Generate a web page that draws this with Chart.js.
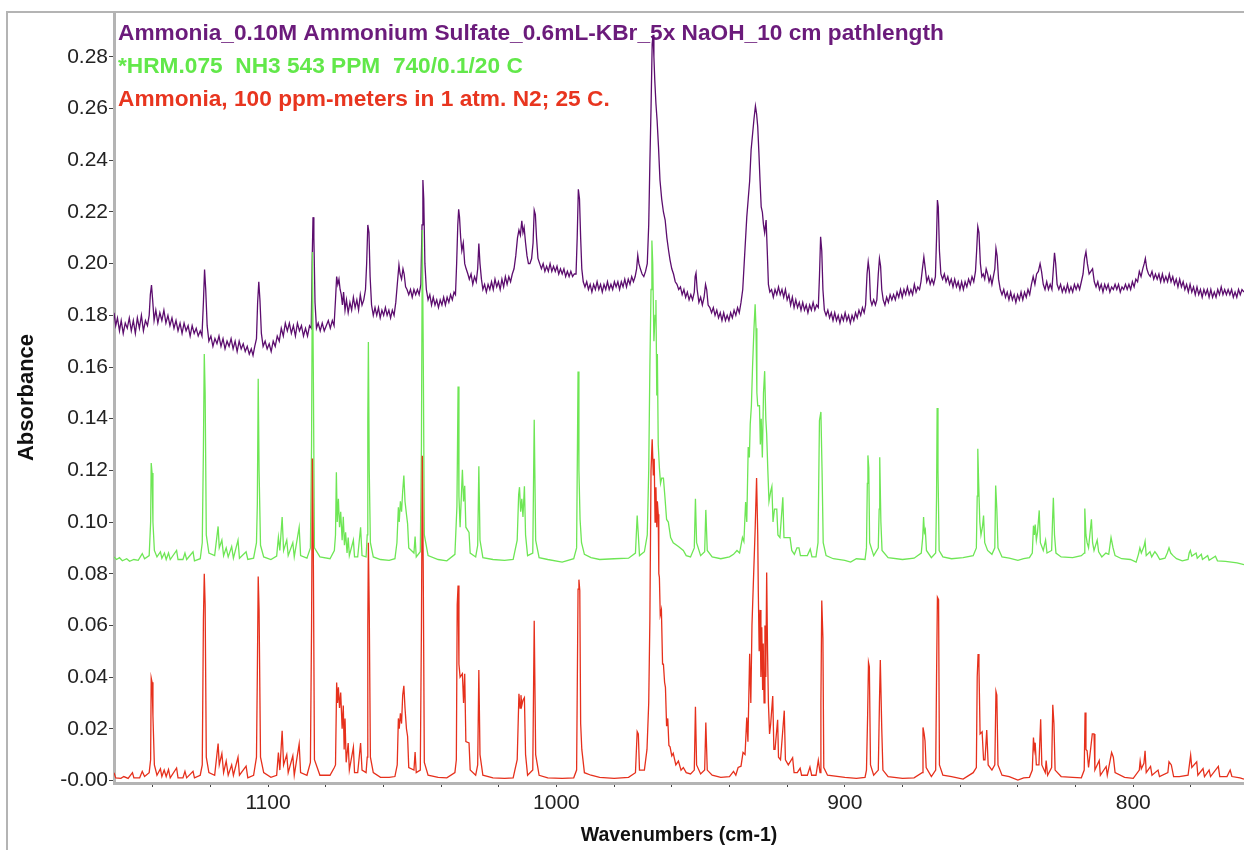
<!DOCTYPE html>
<html>
<head>
<meta charset="utf-8">
<script src="https://cdn.jsdelivr.net/npm/chart.js@4.4.1/dist/chart.umd.min.js"></script>
<style>
  html, body { margin: 0; padding: 0; background: #fff; }
  #wrap { width: 1244px; height: 850px; }
</style>
</head>
<body>
<div id="wrap"><canvas id="myChart" width="1244" height="850"></canvas></div>
<script>
// Spectra: [wavenumber cm-1, absorbance]

const redPts = [
  [1153.4,0.003],[1152.8,0.001],[1151,0.0008],[1150,0.0015],[1148.5,0.0008],[1147,0.003],[1146.5,0.001],
  [1144.5,0.001],[1143.6,0.0035],[1142.8,0.0015],[1141.2,0.003],[1140.7,0.008],[1140.5,0.0397],[1140.2,0.038],
  [1139.9,0.025],[1139.4,0.006],[1138.5,0.002],[1137.3,0.0045],[1136.8,0.0015],[1136.0,0.004],[1135.3,0.0015],
  [1134.5,0.0042],[1133.9,0.001],[1131.7,0.0048],[1131.2,0.001],[1129.5,0.001],[1128.8,0.0035],[1128.2,0.001],
  [1126.0,0.0035],[1125.5,0.001],[1123.5,0.002],[1122.8,0.006],[1122.4,0.062],[1122.1,0.080],[1121.8,0.068],
  [1121.4,0.009],[1120.5,0.003],[1118.5,0.002],[1117.3,0.0143],[1116.9,0.006],[1116.0,0.0104],[1115.4,0.003],
  [1114.5,0.0075],[1113.8,0.002],[1112.6,0.006],[1112.0,0.002],[1110.4,0.009],[1109.9,0.002],[1107.6,0.0055],
  [1107.0,0.001],[1105,0.002],[1104.0,0.009],[1103.7,0.041],[1103.4,0.0789],[1103.1,0.066],[1102.6,0.009],
  [1101.5,0.003],[1099,0.0012],[1097,0.002],[1096.4,0.0108],[1095.9,0.004],[1095.1,0.0192],[1094.6,0.006],
  [1093.5,0.010],[1093.0,0.003],[1091.4,0.0095],[1090.9,0.002],[1089.5,0.012],[1089.2,0.0141],[1088.7,0.003],
  [1086.5,0.002],[1085.3,0.007],[1084.9,0.06],[1084.6,0.1246],[1084.3,0.09],[1083.9,0.008],[1082,0.002],
  [1078.5,0.002],[1077,0.005],[1076.6,0.006],[1076.2,0.0379],[1075.9,0.03],[1075.6,0.036],[1075.2,0.028],
  [1074.8,0.034],[1074.3,0.02],[1073.9,0.029],[1073.6,0.012],[1073.3,0.024],[1072.9,0.007],[1072.2,0.0145],
  [1071.8,0.004],[1070.4,0.0129],[1070.0,0.003],[1068.9,0.003],[1067.9,0.0145],[1067.4,0.004],[1066.0,0.003],
  [1065.6,0.009],[1065.4,0.06],[1065.2,0.092],[1064.9,0.066],[1064.5,0.009],[1063.5,0.003],[1061,0.0012],
  [1058,0.0012],[1056,0.0015],[1055.2,0.006],[1054.8,0.024],[1054.5,0.02],[1054.1,0.026],[1053.7,0.022],
  [1053.3,0.033],[1052.9,0.0366],[1052.5,0.028],[1052.0,0.02],[1051.6,0.017],[1051.2,0.005],[1049.4,0.004],
  [1049.0,0.011],[1048.6,0.003],[1047.2,0.004],[1046.8,0.06],[1046.5,0.1257],[1046.2,0.085],[1045.8,0.007],
  [1044.5,0.002],[1041,0.0012],[1038,0.001],[1035.2,0.003],[1034.7,0.008],[1034.4,0.068],[1034.1,0.0754],
  [1033.8,0.045],[1033.4,0.04],[1032.6,0.0413],[1032.2,0.03],[1031.8,0.0413],[1031.4,0.015],[1030.3,0.0145],
  [1029.9,0.004],[1028,0.002],[1027.3,0.006],[1026.9,0.0427],[1026.5,0.01],[1025.5,0.002],[1022,0.001],
  [1018,0.0008],[1015,0.001],[1013.6,0.008],[1013.0,0.0335],[1012.6,0.028],[1012.3,0.033],[1012.0,0.029],
  [1011.6,0.031],[1011.1,0.032],[1010.7,0.01],[1010.0,0.002],[1008.2,0.004],[1007.7,0.0618],[1007.2,0.01],
  [1006,0.002],[1003,0.001],[998,0.0008],[994,0.001],[993.0,0.004],[992.5,0.074],[992.2,0.0777],
  [991.9,0.0735],[991.6,0.022],[991.2,0.012],[990.3,0.003],[988,0.002],[985,0.0012],[980,0.0008],
  [975,0.0012],[972.6,0.003],[972.0,0.0189],[971.6,0.018],[971.2,0.004],[969.5,0.004],[968.6,0.012],
  [968.0,0.03],[967.6,0.062],[967.2,0.12],[966.8,0.132],[966.4,0.118],[966.1,0.1245],[965.8,0.10],
  [965.5,0.1135],[965.2,0.098],[965.0,0.108],[964.7,0.103],[964.5,0.08],[964.3,0.0786],[964.0,0.064],
  [963.6,0.066],[963.2,0.045],[962.9,0.045],[962.5,0.038],[962.2,0.036],[961.8,0.021],[961.4,0.024],
  [961.0,0.0135],[960.6,0.013],[960.0,0.0095],[959.5,0.0105],[958.6,0.006],[957.7,0.0075],[956.8,0.004],
  [956.0,0.005],[955.0,0.003],[953.5,0.0025],[952.2,0.004],[951.8,0.0285],[951.4,0.006],[950.0,0.0025],
  [948.6,0.004],[948.2,0.0224],[947.7,0.004],[946,0.002],[943,0.0012],[940,0.0015],[938.6,0.0035],
  [937.8,0.002],[937,0.005],[936,0.0055],[935.3,0.0108],[934.6,0.01],[934.0,0.0243],[933.6,0.015],
  [933.0,0.049],[932.6,0.03],[932.2,0.06],[931.7,0.077],[931.1,0.097],[930.6,0.117],[930.2,0.095],
  [930.0,0.0728],[929.7,0.05],[929.4,0.066],[929.1,0.04],[928.8,0.0593],[928.5,0.035],[928.3,0.053],
  [928.0,0.03],[927.7,0.06],[927.4,0.04],[927.1,0.0805],[926.8,0.05],[926.5,0.03],[926.1,0.018],
  [925.7,0.022],[925.0,0.0327],[924.6,0.012],[924.2,0.012],[923.3,0.0235],[923.0,0.009],[922.3,0.008],
  [921.0,0.027],[920.6,0.008],[919.6,0.006],[918.1,0.0088],[917.6,0.003],[916.5,0.003],[915.5,0.0047],
  [915,0.002],[913,0.002],[912.1,0.0052],[911.5,0.002],[910,0.002],[909.2,0.0078],[908.6,0.003],
  [908.3,0.03],[908.0,0.0696],[907.6,0.055],[907.3,0.005],[906,0.002],[900,0.0012],[896,0.0008],
  [893,0.0012],[892.5,0.004],[892.1,0.025],[891.8,0.0457],[891.5,0.044],[891.1,0.006],[890,0.002],
  [888.4,0.004],[888.0,0.03],[887.7,0.0466],[887.2,0.02],[886.8,0.004],[885,0.0015],[880,0.0008],
  [876,0.001],[873.2,0.003],[872.9,0.0205],[872.5,0.018],[872.2,0.0153],[871.8,0.005],[870,0.0015],
  [868.5,0.004],[868.2,0.04],[867.9,0.0709],[867.5,0.07],[867.2,0.006],[866,0.002],[863,0.0015],
  [859,0.0005],[855.5,0.003],[854.4,0.005],[854.1,0.04],[853.8,0.0489],[853.5,0.044],[853.1,0.018],
  [852.4,0.0188],[851.9,0.008],[851.4,0.008],[850.8,0.0195],[850.3,0.006],[849,0.004],[848.0,0.006],
  [847.6,0.0344],[847.3,0.033],[846.9,0.006],[845.5,0.002],[843,0.0015],[840,0.0001],[838,0.001],
  [836,0.0012],[835.0,0.004],[834.6,0.0166],[834.3,0.012],[834.0,0.0146],[833.6,0.006],[832.7,0.006],
  [832.1,0.0237],[831.7,0.006],[830.5,0.003],[830.2,0.0077],[829.7,0.002],[828.3,0.005],[827.9,0.0293],
  [827.5,0.022],[827.1,0.004],[825,0.0015],[821,0.0012],[818,0.001],[817.0,0.004],[816.7,0.0263],
  [816.4,0.012],[816.0,0.0115],[815.5,0.005],[814.2,0.018],[813.6,0.018],[813.3,0.004],[811.8,0.0077],
  [811.4,0.002],[809.4,0.0054],[809,0.002],[807.5,0.0108],[806.9,0.009],[806.3,0.003],[803,0.0012],
  [800,0.0008],[797.9,0.004],[797.6,0.0075],[797.2,0.0045],[796.3,0.0066],[795.9,0.0115],[795.5,0.003],
  [794.0,0.0054],[793.5,0.002],[791.4,0.004],[790.9,0.0015],[788,0.003],[787.6,0.0072],[786.8,0.006],
  [786,0.0015],[784,0.0015],[781,0.002],[780.1,0.0098],[779.7,0.005],[778.0,0.0072],[777.6,0.002],
  [775.8,0.0046],[775.3,0.0015],[773.7,0.004],[773.2,0.0015],[770.5,0.0054],[770.0,0.0015],[767.5,0.0015],
  [766.4,0.004],[765.8,0.0015],[763,0.001],[761.6,0.0005]
];

const greenPts = [
  [1153.4,0.0865],[1152.5,0.0855],[1151.5,0.0862],[1150.5,0.085],[1149,0.0858],[1148,0.0848],[1146.5,0.0855],
  [1145,0.0852],[1143.6,0.0878],[1142.8,0.0858],[1141.2,0.087],[1140.7,0.10],[1140.5,0.1228],[1140.2,0.119],
  [1139.9,0.1],[1139.4,0.089],[1138.5,0.0865],[1137.3,0.0885],[1136.8,0.086],[1135.9,0.088],[1135.3,0.0855],
  [1134.5,0.088],[1133.9,0.0855],[1131.7,0.089],[1131.2,0.0855],[1129.5,0.0855],[1128.8,0.088],[1128.2,0.0855],
  [1126.0,0.0885],[1125.5,0.085],[1123.5,0.0858],[1122.8,0.092],[1122.4,0.128],[1122.1,0.165],[1121.8,0.150],
  [1121.4,0.095],[1120.5,0.088],[1118.5,0.087],[1117.3,0.0983],[1116.9,0.09],[1116.0,0.093],[1115.4,0.087],
  [1114.5,0.09],[1113.8,0.0865],[1112.6,0.0905],[1112.0,0.086],[1110.4,0.093],[1109.9,0.086],[1107.6,0.0885],
  [1107.0,0.0855],[1105,0.086],[1104.0,0.092],[1103.7,0.107],[1103.4,0.1555],[1103.1,0.12],[1102.6,0.091],
  [1101.5,0.0865],[1099,0.0855],[1097,0.0868],[1096.4,0.0941],[1095.9,0.089],[1095.1,0.1019],[1094.6,0.089],
  [1093.5,0.093],[1093.0,0.087],[1091.4,0.092],[1090.9,0.0865],[1089.2,0.098],[1088.7,0.087],[1086.5,0.086],
  [1085.3,0.09],[1084.9,0.13],[1084.6,0.2045],[1084.3,0.16],[1083.9,0.09],[1082,0.0865],[1078.5,0.0858],
  [1077,0.089],[1076.6,0.095],[1076.3,0.1193],[1076.0,0.1],[1075.6,0.109],[1075.2,0.098],[1074.8,0.104],
  [1074.3,0.093],[1073.9,0.102],[1073.5,0.091],[1073.1,0.096],[1072.6,0.088],[1072.2,0.094],[1071.8,0.087],
  [1070.4,0.093],[1070.0,0.0865],[1068.9,0.0865],[1067.9,0.098],[1067.4,0.087],[1066.0,0.0865],[1065.6,0.095],
  [1065.4,0.14],[1065.2,0.1697],[1064.9,0.12],[1064.5,0.092],[1063.5,0.0865],[1061,0.0855],[1058,0.0852],
  [1056,0.0858],[1055.3,0.092],[1054.8,0.1057],[1054.5,0.1],[1054.1,0.108],[1053.7,0.104],[1053.3,0.112],
  [1052.9,0.118],[1052.5,0.108],[1052.0,0.103],[1051.6,0.0993],[1051.2,0.09],[1049.4,0.088],[1049.0,0.0944],
  [1048.6,0.0865],[1047.2,0.0885],[1046.8,0.13],[1046.5,0.213],[1046.2,0.17],[1045.8,0.095],[1044.5,0.087],
  [1041,0.0855],[1038,0.085],[1035.2,0.0875],[1034.5,0.106],[1034.1,0.1525],[1033.8,0.11],[1033.4,0.098],
  [1032.6,0.1202],[1032.2,0.108],[1031.8,0.114],[1031.4,0.098],[1030.3,0.096],[1029.9,0.088],[1028,0.0865],
  [1027.3,0.091],[1026.9,0.1216],[1026.5,0.093],[1025.5,0.0862],[1022,0.0855],[1018,0.0852],[1015,0.0855],
  [1013.6,0.093],[1013.1,0.1105],[1012.8,0.1135],[1012.4,0.104],[1012.0,0.109],[1011.6,0.102],[1011.1,0.1138],
  [1010.7,0.095],[1010.0,0.087],[1008.2,0.088],[1007.7,0.1396],[1007.2,0.093],[1006,0.0862],[1003,0.0855],
  [998,0.0845],[994,0.0858],[993.0,0.09],[992.5,0.1583],[992.2,0.12],[991.8,0.101],[991.3,0.092],
  [990.3,0.0875],[988,0.0862],[985,0.0855],[980,0.0858],[975,0.086],[972.6,0.088],[972.0,0.1025],
  [971.6,0.095],[971.2,0.087],[969.5,0.0885],[968.5,0.095],[968.0,0.12],[967.6,0.16],[967.2,0.19],
  [966.9,0.209],[966.6,0.2],[966.2,0.17],[965.8,0.18],[965.5,0.1859],[965.2,0.149],[965.0,0.165],
  [964.7,0.13],[964.3,0.121],[963.9,0.115],[963.5,0.117],[962.9,0.117],[962.4,0.11],[961.8,0.101],
  [961.2,0.1],[960.4,0.094],[959.5,0.092],[957.7,0.0905],[956.0,0.089],[955.0,0.087],[953.5,0.0865],
  [952.2,0.09],[951.8,0.109],[951.4,0.092],[950.0,0.087],[948.6,0.0885],[948.2,0.1047],[947.7,0.089],
  [946,0.0865],[943,0.0858],[940,0.0865],[938.6,0.0875],[937.4,0.089],[936.5,0.088],[935.5,0.094],
  [935.0,0.0925],[934.4,0.1077],[934.0,0.1],[933.5,0.129],[933.1,0.125],[932.8,0.138],[932.4,0.145],
  [932.0,0.16],[931.5,0.175],[931.1,0.1843],[930.8,0.175],[930.5,0.15],[930.2,0.145],[929.6,0.145],
  [929.3,0.13],[929.0,0.14],[928.6,0.125],[928.2,0.15],[927.8,0.1584],[927.4,0.14],[927.1,0.134],
  [926.7,0.12],[926.3,0.108],[925.7,0.112],[925.3,0.1138],[924.9,0.1],[924.4,0.105],[923.6,0.105],
  [923.2,0.095],[922.5,0.094],[921.5,0.1096],[921.1,0.094],[919.6,0.094],[919.0,0.094],[918.4,0.089],
  [917.5,0.0875],[916.6,0.09],[915.9,0.09],[915.4,0.087],[913,0.087],[912.0,0.0895],[911.4,0.0865],
  [910,0.0865],[909.3,0.092],[908.8,0.1393],[908.3,0.1426],[907.9,0.12],[907.5,0.092],[906.5,0.087],
  [904,0.0858],[900,0.0852],[898,0.0845],[896,0.0858],[893,0.0855],[892.5,0.09],[892.2,0.115],
  [892.0,0.1258],[891.7,0.121],[891.4,0.092],[890,0.087],[888.4,0.09],[888.1,0.105],[887.9,0.1251],
  [887.5,0.1],[887.1,0.089],[885,0.0862],[880,0.0855],[876,0.086],[873.5,0.088],[873.0,0.094],
  [872.7,0.1019],[872.4,0.096],[872.1,0.097],[871.7,0.089],[870,0.0862],[868.5,0.088],[868.2,0.11],
  [868.0,0.1441],[867.7,0.12],[867.3,0.089],[866,0.0865],[863,0.0858],[859,0.0862],[855.5,0.087],
  [854.4,0.09],[854.1,0.11],[853.9,0.1284],[853.6,0.115],[853.2,0.1],[852.8,0.095],[852.3,0.098],
  [851.9,0.1025],[851.5,0.092],[850.5,0.089],[849.0,0.0875],[848.0,0.09],[847.7,0.1141],[847.3,0.105],
  [846.9,0.09],[845.5,0.0865],[843,0.086],[840,0.0852],[838,0.0858],[836,0.0862],[835.0,0.088],
  [834.6,0.0986],[834.3,0.095],[834.0,0.099],[833.6,0.093],[833.2,0.096],[832.6,0.1045],[832.2,0.092],
  [831.2,0.089],[830.4,0.093],[829.9,0.088],[828.3,0.089],[828.0,0.1],[827.7,0.1094],[827.3,0.095],
  [826.8,0.088],[825,0.0865],[821,0.0862],[818,0.087],[817.0,0.088],[816.8,0.1052],[816.4,0.095],
  [816.0,0.092],[815.5,0.09],[814.5,0.1011],[814.1,0.092],[813.6,0.089],[812.5,0.093],[812.0,0.0885],
  [810.9,0.0865],[809.5,0.088],[808.5,0.0875],[807.7,0.094],[807.0,0.09],[806.3,0.087],[804,0.0858],
  [801,0.0855],[799,0.0845],[798.2,0.0875],[797.7,0.09],[797.2,0.088],[796.3,0.0905],[795.9,0.0925],
  [795.5,0.087],[794.2,0.0885],[793.6,0.0865],[792.5,0.0885],[791.8,0.0875],[790.8,0.0855],[789,0.086],
  [788.2,0.088],[787.6,0.090],[787.0,0.088],[786.2,0.087],[785,0.0858],[783,0.085],[781,0.0855],
  [780.6,0.088],[780.2,0.089],[779.7,0.0868],[778.2,0.088],[777.8,0.086],[776.4,0.0875],[776.0,0.0855],
  [774.2,0.087],[773.7,0.0852],[771.5,0.0868],[770.8,0.085],[768,0.0848],[766,0.0845],[764,0.0842],
  [761.6,0.0835]
];

const purplePts = [
  [1153.4,0.181],[1152.8,0.176],[1152.2,0.179],[1151.5,0.174],[1150.9,0.178],[1150.2,0.173],[1149.5,0.177],
  [1148.8,0.175],[1148.1,0.179],[1147.4,0.174],[1146.7,0.178],[1146.0,0.173],[1145.3,0.179],[1144.6,0.175],
  [1143.9,0.18],[1143.2,0.174],[1142.5,0.178],[1141.8,0.176],[1141.2,0.18],[1140.8,0.188],[1140.4,0.1917],
  [1140.0,0.186],[1139.5,0.178],[1138.9,0.182],[1138.2,0.177],[1137.5,0.181],[1136.8,0.178],[1136.1,0.182],
  [1135.4,0.177],[1134.7,0.18],[1134.0,0.176],[1133.3,0.179],[1132.6,0.175],[1131.9,0.178],[1131.2,0.174],
  [1130.5,0.177],[1129.8,0.173],[1129.1,0.177],[1128.4,0.174],[1127.7,0.176],[1127.0,0.172],[1126.3,0.176],
  [1125.6,0.173],[1124.9,0.175],[1124.2,0.172],[1123.5,0.174],[1122.9,0.172],[1122.4,0.185],[1122.0,0.1977],
  [1121.6,0.19],[1121.1,0.176],[1120.5,0.17],[1119.8,0.172],[1119.1,0.168],[1118.4,0.171],[1117.7,0.169],
  [1117.0,0.172],[1116.3,0.168],[1115.6,0.171],[1114.9,0.167],[1114.2,0.17],[1113.5,0.168],[1112.8,0.171],
  [1112.1,0.167],[1111.4,0.17],[1110.7,0.166],[1110.0,0.17],[1109.3,0.167],[1108.6,0.169],[1107.9,0.166],
  [1107.2,0.168],[1106.5,0.165],[1105.8,0.167],[1105.2,0.1645],[1104.6,0.168],[1104.0,0.171],[1103.6,0.185],
  [1103.2,0.193],[1102.8,0.186],[1102.3,0.173],[1101.7,0.168],[1101.0,0.17],[1100.3,0.167],[1099.6,0.169],
  [1098.9,0.166],[1098.2,0.17],[1097.5,0.168],[1096.8,0.172],[1096.1,0.17],[1095.4,0.175],[1094.7,0.172],
  [1094.0,0.177],[1093.3,0.174],[1092.6,0.177],[1091.9,0.173],[1091.2,0.176],[1090.5,0.172],[1089.8,0.177],
  [1089.1,0.174],[1088.4,0.176],[1087.7,0.172],[1087.0,0.175],[1086.3,0.172],[1085.6,0.176],[1085.0,0.175],
  [1084.7,0.2],[1084.4,0.218],[1084.1,0.21],[1083.7,0.185],[1083.2,0.175],[1082.6,0.177],[1081.9,0.174],
  [1081.2,0.177],[1080.5,0.174],[1079.8,0.176],[1079.1,0.178],[1078.4,0.175],[1077.7,0.178],[1077.1,0.176],
  [1076.6,0.186],[1076.2,0.195],[1075.8,0.192],[1075.4,0.194],[1075.0,0.19],[1074.6,0.188],[1074.2,0.184],
  [1073.8,0.189],[1073.3,0.182],[1072.8,0.186],[1072.2,0.181],[1071.6,0.185],[1071.0,0.182],[1070.4,0.187],
  [1069.8,0.183],[1069.2,0.186],[1068.6,0.182],[1068.0,0.188],[1067.4,0.184],[1066.8,0.186],[1066.2,0.19],
  [1065.8,0.2],[1065.4,0.215],[1065.0,0.212],[1064.6,0.195],[1064.1,0.184],[1063.5,0.18],[1062.9,0.183],
  [1062.3,0.18],[1061.7,0.183],[1061.1,0.179],[1060.5,0.182],[1059.9,0.18],[1059.3,0.183],[1058.7,0.18],
  [1058.1,0.182],[1057.5,0.179],[1056.9,0.182],[1056.3,0.18],[1055.7,0.185],[1055.1,0.193],[1054.6,0.1995],
  [1054.2,0.196],[1053.7,0.194],[1053.2,0.198],[1052.8,0.196],[1052.3,0.191],[1051.8,0.19],[1051.2,0.188],
  [1050.6,0.19],[1050.0,0.187],[1049.4,0.19],[1048.8,0.188],[1048.2,0.19],[1047.6,0.188],[1047.0,0.192],
  [1046.6,0.215],[1046.3,0.2324],[1046.0,0.225],[1045.6,0.2],[1045.1,0.19],[1044.5,0.186],[1043.9,0.188],
  [1043.3,0.184],[1042.7,0.187],[1042.1,0.184],[1041.5,0.186],[1040.9,0.183],[1040.3,0.186],[1039.7,0.184],
  [1039.1,0.187],[1038.5,0.184],[1037.9,0.187],[1037.3,0.185],[1036.7,0.188],[1036.1,0.186],[1035.5,0.189],
  [1035.0,0.188],[1034.6,0.2],[1034.2,0.215],[1033.9,0.221],[1033.6,0.218],[1033.2,0.21],[1032.8,0.205],
  [1032.3,0.208],[1031.8,0.2],[1031.3,0.198],[1030.7,0.196],[1030.2,0.194],[1029.6,0.196],[1029.0,0.192],
  [1028.4,0.195],[1027.8,0.193],[1027.3,0.198],[1026.9,0.2078],[1026.5,0.2],[1026.0,0.194],[1025.5,0.19],
  [1024.9,0.192],[1024.3,0.189],[1023.7,0.192],[1023.1,0.19],[1022.5,0.193],[1021.9,0.19],[1021.3,0.194],
  [1020.7,0.191],[1020.1,0.193],[1019.5,0.19],[1018.9,0.194],[1018.3,0.191],[1017.7,0.195],[1017.1,0.192],
  [1016.5,0.195],[1015.9,0.193],[1015.3,0.196],[1014.7,0.198],[1014.1,0.203],[1013.5,0.21],[1013.0,0.213],
  [1012.5,0.211],[1012.0,0.2166],[1011.6,0.212],[1011.2,0.214],[1010.7,0.208],[1010.2,0.203],[1009.7,0.2],
  [1009.2,0.2],[1008.6,0.202],[1008.1,0.208],[1007.7,0.2207],[1007.3,0.219],[1006.9,0.21],[1006.4,0.202],
  [1005.8,0.2],[1005.2,0.198],[1004.6,0.2],[1004.0,0.197],[1003.4,0.199],[1002.8,0.197],[1002.2,0.2],
  [1001.6,0.197],[1001.0,0.199],[1000.4,0.197],[999.8,0.199],[999.2,0.196],[998.6,0.198],[998.0,0.196],
  [997.4,0.198],[996.8,0.195],[996.2,0.197],[995.6,0.195],[995.0,0.197],[994.4,0.195],[993.8,0.196],
  [993.2,0.196],[992.8,0.21],[992.4,0.2288],[992.0,0.225],[991.6,0.21],[991.2,0.198],[990.7,0.193],
  [990.1,0.191],[989.5,0.193],[988.9,0.19],[988.3,0.192],[987.7,0.189],[987.1,0.192],[986.5,0.19],
  [985.9,0.193],[985.3,0.19],[984.7,0.192],[984.1,0.189],[983.5,0.192],[982.9,0.19],[982.3,0.193],
  [981.7,0.19],[981.1,0.192],[980.5,0.19],[979.9,0.193],[979.3,0.191],[978.7,0.193],[978.1,0.19],
  [977.5,0.193],[976.9,0.191],[976.3,0.194],[975.7,0.191],[975.1,0.194],[974.5,0.192],[973.9,0.195],
  [973.3,0.193],[972.7,0.195],[972.2,0.198],[971.8,0.2033],[971.4,0.2],[970.9,0.198],[970.3,0.196],
  [969.7,0.195],[969.1,0.197],[968.5,0.2],[968.0,0.215],[967.6,0.239],[967.2,0.26],[966.8,0.285],
  [966.5,0.2886],[966.2,0.28],[965.9,0.271],[965.5,0.262],[965.1,0.2556],[964.6,0.245],[964.1,0.2324],
  [963.5,0.225],[962.9,0.22],[962.3,0.2169],[961.7,0.21],[961.1,0.205],[960.6,0.2014],[960.0,0.198],
  [959.4,0.196],[958.8,0.193],[958.2,0.192],[957.6,0.19],[957.0,0.191],[956.4,0.188],[955.8,0.19],
  [955.2,0.187],[954.6,0.189],[954.0,0.186],[953.4,0.188],[952.8,0.186],[952.2,0.189],[951.9,0.195],
  [951.6,0.1964],[951.2,0.19],[950.6,0.185],[950.0,0.187],[949.4,0.184],[948.8,0.187],[948.3,0.192],
  [947.9,0.19],[947.4,0.184],[946.8,0.183],[946.2,0.181],[945.6,0.183],[945.0,0.18],[944.4,0.182],
  [943.8,0.179],[943.2,0.181],[942.6,0.178],[942.0,0.181],[941.4,0.178],[940.8,0.18],[940.2,0.178],
  [939.6,0.181],[939.0,0.179],[938.4,0.182],[937.8,0.18],[937.2,0.183],[936.6,0.181],[936.0,0.185],
  [935.4,0.19],[934.9,0.2],[934.4,0.21],[934.0,0.218],[933.5,0.225],[933.0,0.232],[932.5,0.244],
  [932.0,0.25],[931.5,0.256],[931.0,0.261],[930.6,0.258],[930.2,0.253],[929.8,0.243],[929.4,0.232],
  [929.0,0.222],[928.6,0.22],[928.2,0.215],[927.8,0.212],[927.3,0.2169],[926.9,0.205],[926.5,0.192],
  [926.0,0.189],[925.4,0.19],[924.8,0.187],[924.2,0.19],[923.6,0.188],[923.0,0.191],[922.4,0.188],
  [921.8,0.19],[921.2,0.187],[920.6,0.19],[920.0,0.186],[919.4,0.188],[918.8,0.184],[918.2,0.187],
  [917.6,0.183],[917.0,0.186],[916.4,0.183],[915.8,0.185],[915.2,0.182],[914.6,0.185],[914.0,0.182],
  [913.4,0.184],[912.8,0.181],[912.2,0.184],[911.6,0.182],[911.0,0.185],[910.4,0.182],[909.8,0.184],
  [909.2,0.183],[908.8,0.195],[908.4,0.2104],[908.0,0.205],[907.6,0.19],[907.1,0.182],[906.5,0.18],
  [905.9,0.182],[905.3,0.179],[904.7,0.181],[904.1,0.178],[903.5,0.181],[902.9,0.178],[902.3,0.18],
  [901.7,0.177],[901.1,0.18],[900.5,0.178],[899.9,0.181],[899.3,0.178],[898.7,0.18],[898.1,0.177],
  [897.5,0.18],[896.9,0.178],[896.3,0.181],[895.7,0.179],[895.1,0.182],[894.5,0.18],[893.9,0.183],
  [893.3,0.181],[892.8,0.184],[892.3,0.196],[891.9,0.2007],[891.5,0.197],[891.1,0.186],[890.6,0.184],
  [890.0,0.186],[889.4,0.184],[888.9,0.186],[888.4,0.196],[888.0,0.202],[887.6,0.199],[887.2,0.19],
  [886.7,0.186],[886.1,0.184],[885.5,0.187],[884.9,0.185],[884.3,0.188],[883.7,0.186],[883.1,0.188],
  [882.5,0.186],[881.9,0.189],[881.3,0.187],[880.7,0.19],[880.1,0.187],[879.5,0.19],[878.9,0.188],
  [878.3,0.191],[877.7,0.188],[877.1,0.19],[876.5,0.188],[875.9,0.192],[875.3,0.189],[874.7,0.191],
  [874.1,0.19],[873.6,0.193],[873.1,0.198],[872.6,0.2026],[872.1,0.198],[871.6,0.193],[871.0,0.195],
  [870.4,0.192],[869.8,0.194],[869.2,0.192],[868.6,0.195],[868.2,0.21],[867.9,0.2246],[867.6,0.222],
  [867.2,0.205],[866.7,0.196],[866.1,0.194],[865.5,0.196],[864.9,0.193],[864.3,0.195],[863.7,0.192],
  [863.1,0.194],[862.5,0.191],[861.9,0.194],[861.3,0.191],[860.7,0.193],[860.1,0.19],[859.5,0.193],
  [858.9,0.19],[858.3,0.193],[857.7,0.191],[857.1,0.194],[856.5,0.192],[855.9,0.195],[855.3,0.193],
  [854.7,0.197],[854.3,0.205],[853.9,0.2143],[853.5,0.212],[853.0,0.2],[852.5,0.195],[852.0,0.196],
  [851.5,0.194],[851.0,0.198],[850.5,0.196],[850.0,0.193],[849.5,0.195],[849.0,0.192],[848.5,0.195],
  [848.0,0.198],[847.6,0.2059],[847.2,0.203],[846.7,0.194],[846.1,0.19],[845.5,0.188],[844.9,0.19],
  [844.3,0.187],[843.7,0.189],[843.1,0.186],[842.5,0.189],[841.9,0.186],[841.3,0.188],[840.7,0.185],
  [840.1,0.188],[839.5,0.186],[838.9,0.189],[838.3,0.186],[837.7,0.189],[837.1,0.187],[836.5,0.19],
  [835.9,0.188],[835.3,0.192],[834.7,0.195],[834.1,0.192],[833.5,0.196],[832.9,0.197],[832.3,0.2],
  [831.8,0.197],[831.2,0.192],[830.6,0.19],[830.0,0.193],[829.4,0.19],[828.8,0.192],[828.2,0.19],
  [827.7,0.198],[827.3,0.2042],[826.9,0.2],[826.4,0.192],[825.8,0.19],[825.2,0.192],[824.6,0.189],
  [824.0,0.191],[823.4,0.189],[822.8,0.192],[822.2,0.189],[821.6,0.191],[821.0,0.189],[820.4,0.192],
  [819.8,0.19],[819.2,0.192],[818.6,0.19],[818.0,0.193],[817.4,0.196],[816.9,0.202],[816.4,0.2046],
  [815.9,0.2],[815.3,0.196],[814.7,0.197],[814.1,0.198],[813.5,0.193],[812.9,0.191],[812.3,0.193],
  [811.7,0.19],[811.1,0.192],[810.5,0.189],[809.9,0.192],[809.3,0.19],[808.7,0.192],[808.1,0.189],
  [807.5,0.191],[806.9,0.19],[806.3,0.192],[805.7,0.19],[805.1,0.192],[804.5,0.189],[803.9,0.191],
  [803.3,0.19],[802.7,0.192],[802.1,0.19],[801.5,0.192],[800.9,0.19],[800.3,0.193],[799.7,0.191],
  [799.1,0.194],[798.5,0.193],[797.9,0.197],[797.3,0.195],[796.7,0.198],[796.2,0.2],[795.8,0.202],
  [795.3,0.198],[794.7,0.196],[794.1,0.195],[793.5,0.197],[792.9,0.194],[792.3,0.196],[791.7,0.194],
  [791.1,0.196],[790.5,0.193],[789.9,0.196],[789.3,0.193],[788.7,0.195],[788.1,0.193],[787.5,0.196],
  [786.9,0.193],[786.3,0.195],[785.7,0.192],[785.1,0.194],[784.5,0.191],[783.9,0.194],[783.3,0.191],
  [782.7,0.193],[782.1,0.19],[781.5,0.192],[780.9,0.189],[780.3,0.192],[779.7,0.189],[779.1,0.191],
  [778.5,0.188],[777.9,0.191],[777.3,0.188],[776.7,0.19],[776.1,0.187],[775.5,0.19],[774.9,0.188],
  [774.3,0.19],[773.7,0.187],[773.1,0.19],[772.5,0.187],[771.9,0.189],[771.3,0.187],[770.7,0.19],
  [770.1,0.188],[769.5,0.191],[768.9,0.188],[768.3,0.19],[767.7,0.188],[767.1,0.19],[766.5,0.188],
  [765.9,0.19],[765.3,0.187],[764.7,0.189],[764.1,0.187],[763.5,0.19],[762.9,0.188],[762.3,0.19],
  [761.6,0.189]
];

const seriesNames = [
  "Ammonia_0.10M Ammonium Sulfate_0.6mL-KBr_5x NaOH_10 cm pathlength",
  "*HRM.075  NH3 543 PPM  740/0.1/20 C",
  "Ammonia, 100 ppm-meters in 1 atm. N2; 25 C."
];
const textColors = ["#6b1b7b", "#62e84a", "#e8351f"];
const lineColors = ["#5c0d6e", "#6ee655", "#e6301c"];

const xMin = 761.6, xMax = 1153.4;
const yMin = -0.001, yMax = 0.2974;

const FONT = "'Liberation Sans', Arial, sans-serif";

function toXY(pts) {
  return pts.map(p => ({ x: p[0], y: p[1] }));
}

// frame + series labels
const decor = {
  id: "decor",
  beforeDraw(chart) {
    const c = chart.ctx;
    c.save();
    c.fillStyle = "#fff";
    c.fillRect(0, 0, chart.width, chart.height);
    c.strokeStyle = "#b4b4b4";
    c.lineWidth = 2;
    c.beginPath();
    c.moveTo(7, chart.height);
    c.lineTo(7, 12);
    c.lineTo(chart.width, 12);
    c.stroke();
    c.restore();
  },
  beforeDatasetsDraw(chart) {
    const c = chart.ctx;
    const a = chart.chartArea;
    c.save();
    c.font = "bold 22.7px " + FONT;
    c.textBaseline = "middle";
    c.textAlign = "left";
    seriesNames.forEach((t, i) => {
      c.fillStyle = textColors[i];
      c.fillText(t, a.left + 4, a.top + 21.5 + i * 33);
    });
    c.restore();
  }
};

const ctx = document.getElementById("myChart");

new Chart(ctx, {
  type: "line",
  data: {
    datasets: [
      { label: seriesNames[2], data: toXY(redPts), borderColor: lineColors[2], borderWidth: 1.3 },
      { label: seriesNames[1], data: toXY(greenPts), borderColor: lineColors[1], borderWidth: 1.3 },
      { label: seriesNames[0], data: toXY(purplePts), borderColor: lineColors[0], borderWidth: 1.3 },
    ],
  },
  options: {
    responsive: false,
    animation: false,
    parsing: false,
    normalized: true,
    elements: { point: { radius: 0 }, line: { tension: 0 } },
    layout: { padding: { top: 12, left: 0, right: 0, bottom: 0 } },
    plugins: { legend: { display: false }, tooltip: { enabled: false } },
    scales: {
      x: {
        type: "linear",
        reverse: true,
        min: xMin,
        max: xMax,
        afterFit(s) { s.height = 67; s.paddingLeft = 0; s.paddingRight = 0; },
        border: { color: "#b4b4b4", width: 3 },
        grid: { drawOnChartArea: false, tickLength: 4, color: "#444", tickWidth: 1 },
        ticks: {
          stepSize: 20,
          includeBounds: false,
          autoSkip: false,
          maxRotation: 0,
          padding: 4,
          color: "#222",
          font: { family: FONT, size: 21 },
          callback: v => (Math.round(v) % 100 === 0 ? String(Math.round(v)) : ""),
        },
        title: {
          display: true,
          text: "Wavenumbers (cm-1)",
          color: "#111",
          font: { family: FONT, size: 19.5, weight: "bold" },
          padding: { top: 0, bottom: 3 },
        },
      },
      y: {
        min: yMin,
        max: yMax,
        afterFit(s) { s.width = 114; s.paddingTop = 0; s.paddingBottom = 0; },
        border: { color: "#b4b4b4", width: 3 },
        grid: { drawOnChartArea: false, tickLength: 5, color: "#444", tickWidth: 1 },
        ticks: {
          stepSize: 0.02,
          includeBounds: false,
          padding: 1,
          color: "#222",
          font: { family: FONT, size: 21 },
          callback: v => (Math.abs(v) < 1e-6 ? "-0.00" : v.toFixed(2)),
        },
        title: {
          display: true,
          text: "Absorbance",
          color: "#111",
          font: { family: FONT, size: 22, weight: "bold" },
          padding: { top: 14, bottom: 0 },
        },
      },
    },
  },
  plugins: [decor],
});
</script>
</body>
</html>
